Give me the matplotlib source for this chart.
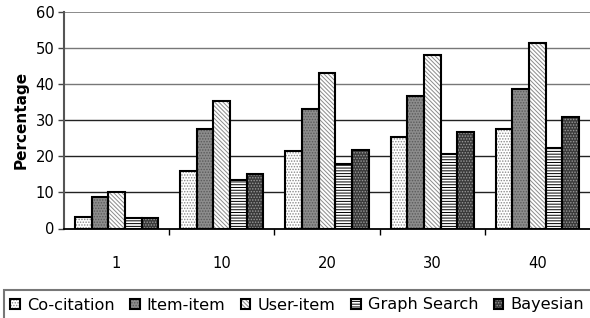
import matplotlib.pyplot as plt
from matplotlib.patches import Rectangle
import numpy as np

plt.rcParams['font.family'] = ['DejaVu Sans']
plt.rcParams['hatch.linewidth'] = 0.7

categories = ['1', '10', '20', '30', '40']
series = ['Co-citation', 'Item-item', 'User-item', 'Graph Search', 'Bayesian']
co_citation = [3.3, 16.0, 21.5, 25.2, 27.6]
item_item = [8.8, 27.5, 33.1, 36.5, 38.7]
user_item = [10.0, 35.2, 43.1, 48.0, 51.2]
graph_search = [2.8, 13.5, 17.9, 20.5, 22.2]
bayesian = [2.8, 15.1, 21.8, 26.6, 30.7]
values = [co_citation, item_item, user_item, graph_search, bayesian]

# face colour, hatch, hatch colour for each series
faces = ['white', '#8c8c8c', 'white', 'white', '#3a3a3a']
hatches = ['......', '......', '\\\\\\\\\\\\\\\\', '------', '......']
hcols = ['#8a8a8a', '#5a5a5a', '#8a8a8a', 'black', '#9a9a9a']

fig = plt.figure(figsize=(5.9, 3.18), dpi=100)
ax = fig.add_axes([64/590, 1-228.5/318, 1-64/590, (228.5-11.5)/318])

x = np.arange(len(categories))
w = 0.158
handles = []
for i, (name, vals) in enumerate(zip(series, values)):
    b1 = ax.bar(x + (i-2)*w, vals, w, color=faces[i], edgecolor=hcols[i],
                hatch=hatches[i], linewidth=0, zorder=3)
    b2 = ax.bar(x + (i-2)*w, vals, w, color='none', edgecolor='black',
                linewidth=1.5, zorder=4)
    handles.append((b1, b2))

ax.set_xlim(-0.5, 4.5)
ax.set_ylim(0, 60)
ax.set_yticks(range(0, 61, 10))
for v in range(10, 61, 10):
    ax.axhline(v, color='#222222' if v <= 30 else '#777777',
               linewidth=1.2 if v == 60 else 1.0, zorder=1)
ax.set_xticks(x)
ax.set_xticklabels(categories, fontsize=10.6)
ax.tick_params(axis='x', length=0, pad=20)
ax.set_xticks(np.arange(0.5, 4.5, 1), minor=True)
ax.tick_params(axis='x', which='minor', length=4, width=1, direction='out')
ax.tick_params(axis='y', labelsize=10.6, length=4, width=1, direction='out',
               color='#444', pad=3)
for s in ['top', 'right']:
    ax.spines[s].set_visible(False)
ax.spines['left'].set_color('#555555')
ax.spines['left'].set_linewidth(1.5)
ax.spines['bottom'].set_color('black')
ax.spines['bottom'].set_linewidth(1.3)
ax.set_ylabel('Percentage', fontsize=11, fontweight='bold', labelpad=5)

# legend box (runs off the bottom/right edge like the source image)
fig.patches.append(Rectangle((4/590, -0.1), 1.0, 1-290/318+0.1,
                             transform=fig.transFigure, fill=False,
                             edgecolor='#777777', linewidth=1.5))
leg = fig.legend(handles, series, loc='center left',
                 bbox_to_anchor=(10/590, 1-305/318), ncol=5,
                 fontsize=11.6, frameon=False, borderpad=0,
                 handlelength=0.6, handleheight=0.6, handletextpad=0.45,
                 columnspacing=0.95, borderaxespad=0)

fig.savefig('out.png', dpi=100)
